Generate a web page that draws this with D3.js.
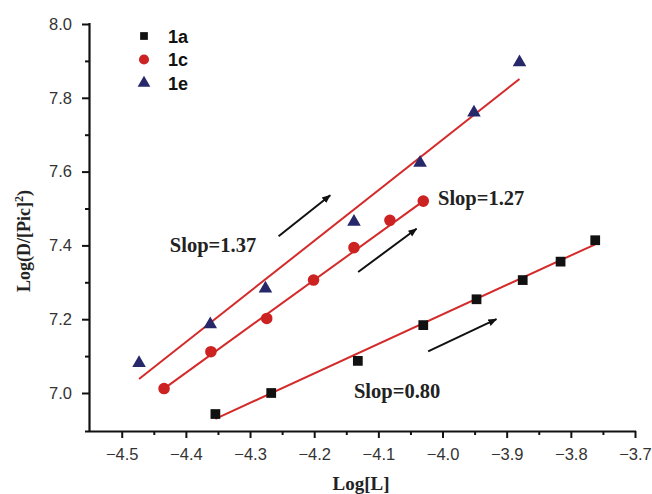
<!DOCTYPE html>
<html><head><meta charset="utf-8">
<script src="https://cdn.jsdelivr.net/npm/d3@7"></script>
<style>body{margin:0;background:#fff}svg{display:block}</style>
</head><body><svg id="c" width="652" height="494"></svg>
<script>
// Data
const x1a = [-4.354, -4.267, -4.132, -4.030, -3.947, -3.875, -3.816, -3.762];
const y1a = [6.943, 7.000, 7.087, 7.184, 7.254, 7.306, 7.356, 7.414];
const x1c = [-4.434, -4.361, -4.274, -4.201, -4.138, -4.082, -4.030];
const y1c = [7.012, 7.112, 7.202, 7.306, 7.394, 7.468, 7.520];
const x1e = [-4.473, -4.362, -4.276, -4.138, -4.035, -3.951, -3.880];
const y1e = [7.081, 7.186, 7.283, 7.464, 7.624, 7.760, 7.896];
// fitted lines: [x start, x end], [y start, y end]
const fit1aX = [-4.354, -3.762], fit1aY = [6.930, 7.403];
const fit1cX = [-4.434, -4.030], fit1cY = [7.012, 7.520];
const fit1eX = [-4.473, -3.880], fit1eY = [7.038, 7.851];
const seriesNames = ["1a", "1c", "1e"];
const xTicks = [-4.5, -4.4, -4.3, -4.2, -4.1, -4.0, -3.9, -3.8, -3.7];
const xMinor = [-4.45, -4.35, -4.25, -4.15, -4.05, -3.95, -3.85, -3.75];
const yTicks = [7.0, 7.2, 7.4, 7.6, 7.8, 8.0];
const yMinor = [7.1, 7.3, 7.5, 7.7, 7.9];
// annotation arrows [x0, y0, x1, y1] and slope labels
const arrows = [[-4.2555, 7.425, -4.175, 7.536], [-4.1315, 7.328, -4.0405, 7.445], [-4.0224, 7.1127, -3.916, 7.200]];
const slopeTexts = ["Slop=1.37", "Slop=1.27", "Slop=0.80"];
const slopeTextPos = [[-4.425, 7.382], [-4.007, 7.509], [-4.138, 6.986]];

const svg = d3.select("#c");
const x = d3.scaleLinear().domain([-4.551, -3.7]).range([89, 635]);
const y = d3.scaleLinear().domain([6.897, 8.0]).range([431, 24]);

const defs = svg.append("defs");
defs.append("marker").attr("id", "ah").attr("viewBox", "0 0 10 10").attr("refX", 9).attr("refY", 5)
  .attr("markerWidth", 9).attr("markerHeight", 9).attr("markerUnits", "userSpaceOnUse").attr("orient", "auto")
  .append("path").attr("d", "M0,1 L10,5 L0,9 Z").attr("fill", "#111");

// axes
const fmt = d3.format(".1f");
const xAxis = d3.axisBottom(x).tickValues(xTicks).tickFormat(fmt).tickSize(7).tickSizeOuter(0);
const gx = svg.append("g").attr("transform", "translate(0,431)").call(xAxis);
const gxm = svg.append("g").attr("transform", "translate(0,431)").call(d3.axisBottom(x).tickValues(xMinor).tickFormat("").tickSize(4).tickSizeOuter(0));
const yAxis = d3.axisLeft(y).tickValues(yTicks).tickFormat(fmt).tickSize(7).tickSizeOuter(0);
const gy = svg.append("g").attr("transform", "translate(89,0)").call(yAxis);
const gym = svg.append("g").attr("transform", "translate(89,0)").call(d3.axisLeft(y).tickValues(yMinor).tickFormat("").tickSize(4).tickSizeOuter(0));
[gx, gxm, gy, gym].forEach(g => {
  g.select(".domain").attr("stroke", "#111").attr("stroke-width", 2.2);
  g.selectAll(".tick line").attr("stroke", "#111").attr("stroke-width", 2);
});
gx.select(".domain").attr("d", `M85,0.5H636`);
gxm.select(".domain").remove();
gy.select(".domain").attr("d", `M0.5,432V23`);
gym.select(".domain").remove();
[gx, gy].forEach(g => g.selectAll(".tick text").attr("font-family", "Liberation Sans, Arial, sans-serif")
  .attr("font-size", 16.5).attr("fill", "#333"));
gx.selectAll(".tick text").attr("dy", "1.05em").attr("y", 12);
gy.selectAll(".tick text").attr("x", -17);

// axis titles
svg.append("text").attr("x", 361).attr("y", 490).attr("text-anchor", "middle")
  .attr("font-family", "Liberation Serif, Times New Roman, serif").attr("font-weight", "bold").attr("font-size", 19)
  .attr("fill", "#222").text("Log[L]");
const yl = svg.append("text").attr("transform", "translate(30,241) rotate(-90)").attr("text-anchor", "middle")
  .attr("font-family", "Liberation Serif, Times New Roman, serif").attr("font-weight", "bold").attr("font-size", 18)
  .attr("fill", "#222");
yl.append("tspan").text("Log(D/[Pic]");
yl.append("tspan").attr("font-size", 12).attr("dy", -7).text("2");
yl.append("tspan").attr("dy", 7).text(")");

// fit lines
const red = "#d42a2a";
const line = d3.line().x(d => x(d[0])).y(d => y(d[1]));
[[fit1aX, fit1aY], [fit1cX, fit1cY], [fit1eX, fit1eY]].forEach(([fx, fy]) => {
  svg.append("path").attr("d", line(d3.zip(fx, fy))).attr("stroke", red).attr("stroke-width", 2).attr("fill", "none");
});

// points
const sq = d3.symbol().type(d3.symbolSquare).size(95);
const ci = d3.symbol().type(d3.symbolCircle).size(105);
const tr = d3.symbol().type(d3.symbolTriangle).size(80);
svg.append("g").selectAll("path").data(d3.zip(x1a, y1a)).join("path")
  .attr("d", sq).attr("transform", d => `translate(${x(d[0])},${y(d[1])})`).attr("fill", "#111");
svg.append("g").selectAll("path").data(d3.zip(x1c, y1c)).join("path")
  .attr("d", ci).attr("transform", d => `translate(${x(d[0])},${y(d[1])})`).attr("fill", "#cc2222");
svg.append("g").selectAll("path").data(d3.zip(x1e, y1e)).join("path")
  .attr("d", tr).attr("transform", d => `translate(${x(d[0])},${y(d[1])})`).attr("fill", "#26286a");

// arrows
svg.append("g").selectAll("line").data(arrows).join("line")
  .attr("x1", d => x(d[0])).attr("y1", d => y(d[1])).attr("x2", d => x(d[2])).attr("y2", d => y(d[3]))
  .attr("stroke", "#111").attr("stroke-width", 2).attr("marker-end", "url(#ah)");

// slope labels
svg.append("g").selectAll("text").data(slopeTexts).join("text")
  .attr("x", (d, i) => x(slopeTextPos[i][0])).attr("y", (d, i) => y(slopeTextPos[i][1]))
  .attr("font-family", "Liberation Serif, Times New Roman, serif").attr("font-weight", "bold").attr("font-size", 20.5)
  .attr("fill", "#222").text(d => d);

// legend
const legCols = ["#111", "#cc2222", "#26286a"];
const lg = svg.append("g");
seriesNames.forEach((n, i) => {
  const cy = 36 + i * 23.5;
  lg.append("path").attr("d", d3.symbol().type([d3.symbolSquare, d3.symbolCircle, d3.symbolTriangle][i]).size([60, 80, 70][i])())
    .attr("transform", `translate(144,${cy})`).attr("fill", legCols[i]);
  lg.append("text").attr("x", 168).attr("y", cy + 6.5).attr("font-family", "Liberation Sans, Arial, sans-serif")
    .attr("font-weight", "bold").attr("font-size", 18).attr("fill", "#111").text(n);
});
</script></body></html>
